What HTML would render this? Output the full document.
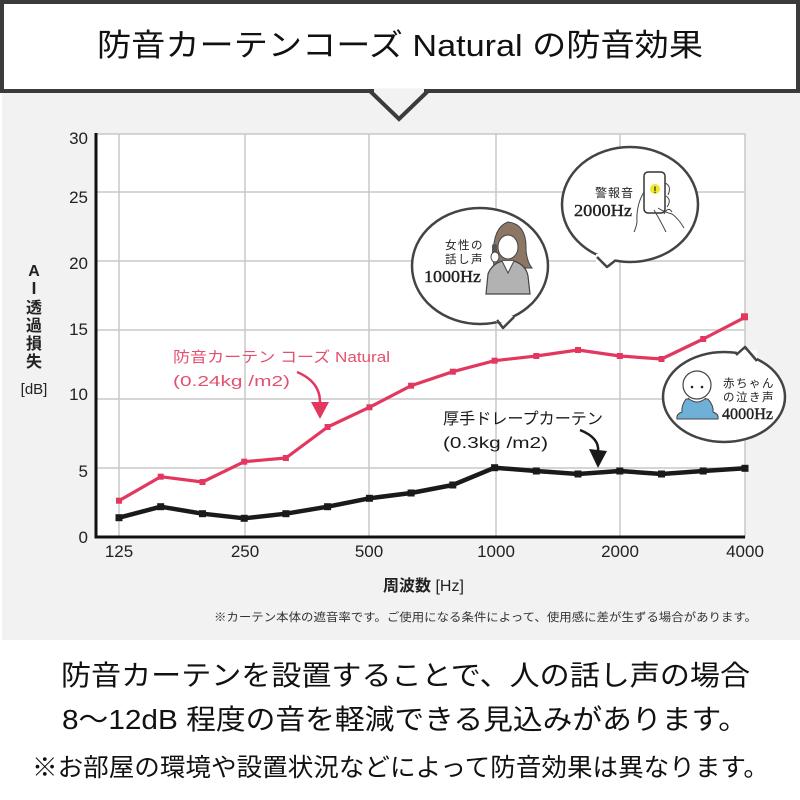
<!DOCTYPE html>
<html><head><meta charset="utf-8"><style>
html,body{margin:0;padding:0;background:#fff;}
svg{display:block;}
text{font-family:"Liberation Sans","Noto Sans CJK JP",sans-serif;}
.serif{font-family:"Liberation Serif","Noto Serif CJK SC",serif;}
</style></head><body>
<svg width="800" height="800" viewBox="0 0 800 800" xmlns="http://www.w3.org/2000/svg">
<rect x="0" y="0" width="800" height="800" fill="#fff"/>
<!-- gray panel -->
<rect x="2" y="93" width="798" height="547" fill="#f2f2f2"/>
<!-- title box -->
<rect x="2" y="2" width="796" height="89" fill="#fff" stroke="#3b3b3b" stroke-width="4"/>
<rect x="374" y="88.5" width="50" height="6" fill="#f2f2f2"/>
<polyline points="370,91 399,119 428,91" fill="none" stroke="#3b3b3b" stroke-width="4"/>
<text x="97" y="56" font-size="31" fill="#111" textLength="606" lengthAdjust="spacingAndGlyphs">防音カーテンコーズ Natural の防音効果</text>

<!-- plot area -->
<rect x="96" y="134" width="649" height="403" fill="#fff" stroke="#c8c8c8" stroke-width="1.5"/>
<g stroke="#c8c8c8" stroke-width="1.5">
<line x1="119" y1="134" x2="119" y2="537"/>
<line x1="245" y1="134" x2="245" y2="537"/>
<line x1="369" y1="134" x2="369" y2="537"/>
<line x1="496" y1="134" x2="496" y2="537"/>
<line x1="620" y1="134" x2="620" y2="537"/>
<line x1="96" y1="192" x2="745" y2="192"/>
<line x1="96" y1="261" x2="745" y2="261"/>
<line x1="96" y1="330" x2="745" y2="330"/>
<line x1="96" y1="399" x2="745" y2="399"/>
<line x1="96" y1="468" x2="745" y2="468"/>
</g>
<line x1="96" y1="133" x2="96" y2="538.5" stroke="#111" stroke-width="3"/>
<line x1="95" y1="537" x2="745" y2="537" stroke="#111" stroke-width="3"/>

<!-- y tick labels -->
<g font-size="17" fill="#222" text-anchor="end">
<text x="88" y="144">30</text>
<text x="88" y="203">25</text>
<text x="88" y="269">20</text>
<text x="88" y="335">15</text>
<text x="88" y="400">10</text>
<text x="88" y="477">5</text>
<text x="88" y="543">0</text>
</g>
<!-- x tick labels -->
<g font-size="17" fill="#222" text-anchor="middle">
<text x="119" y="557">125</text>
<text x="245" y="557">250</text>
<text x="369" y="557">500</text>
<text x="496" y="557">1000</text>
<text x="620" y="557">2000</text>
<text x="745" y="557">4000</text>
</g>
<text x="383" y="591" font-size="16" fill="#222"><tspan font-weight="bold">周波数</tspan> [Hz]</text>
<text x="214" y="621" font-size="11.5" fill="#333" textLength="543" lengthAdjust="spacingAndGlyphs">※カーテン本体の遮音率です。ご使用になる条件によって、使用感に差が生ずる場合があります。</text>

<!-- y axis title -->
<g font-size="16" font-weight="bold" fill="#222" text-anchor="middle">
<text x="34" y="276">A</text>
<line x1="34" y1="282" x2="34" y2="294" stroke="#222" stroke-width="2.5"/>
<text x="34" y="313">透</text>
<text x="34" y="331">過</text>
<text x="34" y="349">損</text>
<text x="34" y="367">失</text>
</g>
<text x="34" y="394" font-size="15" fill="#222" text-anchor="middle">[dB]</text>

<!-- black series -->
<polyline fill="none" stroke="#1a1a1a" stroke-width="4.5" stroke-linejoin="round" points="119,517.7 160.7,506.7 202.5,513.7 244.2,518.3 285.9,513.7 327.6,506.7 369.4,498.3 411.1,493 452.8,485 494.6,467.7 536.3,471 578,474 619.8,471 661.5,474 703.2,471 745,468.3"/>
<g fill="#1a1a1a">
<rect x="115.5" y="514.2" width="7" height="7"/><rect x="157.2" y="503.2" width="7" height="7"/><rect x="199" y="510.2" width="7" height="7"/><rect x="240.7" y="514.8" width="7" height="7"/><rect x="282.4" y="510.2" width="7" height="7"/><rect x="324.1" y="503.2" width="7" height="7"/><rect x="365.9" y="494.8" width="7" height="7"/><rect x="407.6" y="489.5" width="7" height="7"/><rect x="449.3" y="481.5" width="7" height="7"/><rect x="491.1" y="464.2" width="7" height="7"/><rect x="532.8" y="467.5" width="7" height="7"/><rect x="574.5" y="470.5" width="7" height="7"/><rect x="616.3" y="467.5" width="7" height="7"/><rect x="658" y="470.5" width="7" height="7"/><rect x="699.7" y="467.5" width="7" height="7"/><rect x="741.5" y="464.8" width="7" height="7"/>
</g>

<!-- pink series -->
<polyline fill="none" stroke="#e2385f" stroke-width="3.2" stroke-linejoin="round" points="119,500.7 160.7,476.7 202.5,482 244.2,461.7 285.9,458 327.6,427 369.4,407.3 411.1,385.7 452.8,371.7 494.6,360.7 536.3,356 578,350 619.8,356 661.5,359 703.2,339 745,317.3"/>
<g fill="#e2385f">
<rect x="116" y="497.7" width="6" height="6"/><rect x="157.7" y="473.7" width="6" height="6"/><rect x="199.5" y="479" width="6" height="6"/><rect x="241.2" y="458.7" width="6" height="6"/><rect x="282.9" y="455" width="6" height="6"/><rect x="324.6" y="424" width="6" height="6"/><rect x="366.4" y="404.3" width="6" height="6"/><rect x="408.1" y="382.7" width="6" height="6"/><rect x="449.8" y="368.7" width="6" height="6"/><rect x="491.6" y="357.7" width="6" height="6"/><rect x="533.3" y="353" width="6" height="6"/><rect x="575" y="347" width="6" height="6"/><rect x="616.8" y="353" width="6" height="6"/><rect x="658.5" y="356" width="6" height="6"/><rect x="700.2" y="336" width="6" height="6"/><rect x="741" y="313.3" width="7" height="7"/>
</g>

<!-- pink label -->
<text x="173" y="362" font-size="15" fill="#e4506f" textLength="217" lengthAdjust="spacingAndGlyphs">防音カーテン コーズ Natural</text>
<text x="173" y="386" font-size="15" fill="#e4506f" textLength="117" lengthAdjust="spacingAndGlyphs">(0.24kg /m2)</text>
<path d="M297,372 Q321,382 320,404" fill="none" stroke="#e2385f" stroke-width="2.5"/>
<polygon points="311,402 329,402 320,419" fill="#e2385f"/>

<!-- black label -->
<text x="443" y="424" font-size="16" fill="#1a1a1a" textLength="160" lengthAdjust="spacingAndGlyphs">厚手ドレープカーテン</text>
<text x="443" y="448" font-size="16" fill="#1a1a1a" textLength="105" lengthAdjust="spacingAndGlyphs">(0.3kg /m2)</text>
<path d="M580,430 Q600,438 598,452" fill="none" stroke="#1a1a1a" stroke-width="2.5"/>
<polygon points="589,449 607,451 598,468" fill="#1a1a1a"/>

<!-- bubble: woman -->
<ellipse cx="480" cy="266" rx="68" ry="58" fill="#fff" stroke="#444" stroke-width="2.5"/>
<rect x="496" y="316" width="17" height="6" fill="#fff"/>
<path d="M497,320 L503,328 L514,317" fill="none" stroke="#444" stroke-width="2.5" stroke-linejoin="round"/>
<text x="445" y="249" font-size="11.5" fill="#222" letter-spacing="1.5">女性の</text>
<text x="445" y="263" font-size="11.5" fill="#222" letter-spacing="1.5">話し声</text>
<text x="424" y="282" font-size="17" class="serif" fill="#222" stroke="#222" stroke-width="0.4" textLength="57" lengthAdjust="spacingAndGlyphs">1000Hz</text>
<!-- woman figure -->
<path d="M494,268 Q490,228 508,222 Q527,224 526,250 Q527,262 532,268 Z" fill="#8b7763" stroke="#444" stroke-width="1"/>
<ellipse cx="508" cy="247" rx="10" ry="12" fill="#fff" stroke="#444" stroke-width="1"/>
<path d="M497,240 Q500,229 510,230 Q518,234 519,242 Q519,229 508,226 Q497,228 497,240 Z" fill="#8b7763"/>
<path d="M486,294 L488,274 Q492,264 502,261 L514,261 Q526,265 528,276 L530,294 Z" fill="#b2b2b2" stroke="#444" stroke-width="1.2"/>
<path d="M502,261 L508,273 L514,261" fill="#fff" stroke="#444" stroke-width="1"/>
<rect x="492" y="244" width="5" height="11" rx="2" fill="#555"/>
<ellipse cx="495" cy="257" rx="4" ry="5" fill="#fff" stroke="#444" stroke-width="1"/>

<!-- bubble: phone -->
<ellipse cx="630" cy="204.5" rx="68" ry="57.5" fill="#fff" stroke="#444" stroke-width="2.5"/>
<rect x="596" y="254" width="20" height="8" fill="#fff"/>
<path d="M597,257 L607,267 L616,260" fill="none" stroke="#444" stroke-width="2.5" stroke-linejoin="round"/>
<text x="595" y="197" font-size="12" fill="#222" letter-spacing="1">警報音</text>
<text x="574" y="216" font-size="17" class="serif" fill="#222" stroke="#222" stroke-width="0.4" textLength="58" lengthAdjust="spacingAndGlyphs">2000Hz</text>
<rect x="644" y="172" width="21" height="41" rx="4" fill="#fff" stroke="#333" stroke-width="1.5"/>
<circle cx="655" cy="189" r="5" fill="#f0e62a"/>
<text x="655" y="193" font-size="9" fill="#222" text-anchor="middle" font-weight="bold">!</text>
<path d="M644,192 Q636,205 637,222 Q636,228 634,232 M665,183 Q672,186 668,195 M666,196 Q672,200 667,207 M658,208 Q664,212 672,214 Q678,218 684,228 M654,210 Q660,220 666,232 M664,214 Q668,206 672,212" fill="none" stroke="#444" stroke-width="1"/>

<!-- bubble: baby -->
<ellipse cx="724" cy="397" rx="61" ry="45" fill="#fff" stroke="#444" stroke-width="2.5"/>
<rect x="737" y="350" width="20" height="9" fill="#fff"/>
<path d="M736,355 L745,347 L757,361" fill="none" stroke="#444" stroke-width="2.5" stroke-linejoin="round"/>
<text x="723" y="387" font-size="11.5" fill="#222" letter-spacing="1.5">赤ちゃん</text>
<text x="723" y="401" font-size="11.5" fill="#222" letter-spacing="1.5">の泣き声</text>
<text x="722" y="419" font-size="16" class="serif" fill="#222" stroke="#222" stroke-width="0.4" textLength="51" lengthAdjust="spacingAndGlyphs">4000Hz</text>
<path d="M686,399 Q681,406 682,412 Q676,414 677,419 L718,419 Q719,414 713,412 Q714,406 708,399 Z" fill="#6fb0d8" stroke="#444" stroke-width="1"/>
<path d="M688,398 Q697,406 706,398" fill="#fff" stroke="#444" stroke-width="1"/>
<circle cx="697" cy="385" r="14" fill="#fff" stroke="#444" stroke-width="1.2"/>
<circle cx="692" cy="387" r="1.3" fill="#222"/><circle cx="702" cy="387" r="1.3" fill="#222"/>

<!-- bottom text -->
<text x="61" y="685" font-size="28" fill="#111" textLength="689" lengthAdjust="spacingAndGlyphs">防音カーテンを設置することで、人の話し声の場合</text>
<text x="62" y="729" font-size="28" fill="#111" textLength="686" lengthAdjust="spacingAndGlyphs">8〜12dB 程度の音を軽減できる見込みがあります。</text>
<text x="32" y="776" font-size="25" fill="#111" textLength="737" lengthAdjust="spacingAndGlyphs">※お部屋の環境や設置状況などによって防音効果は異なります。</text>
</svg>
</body></html>
